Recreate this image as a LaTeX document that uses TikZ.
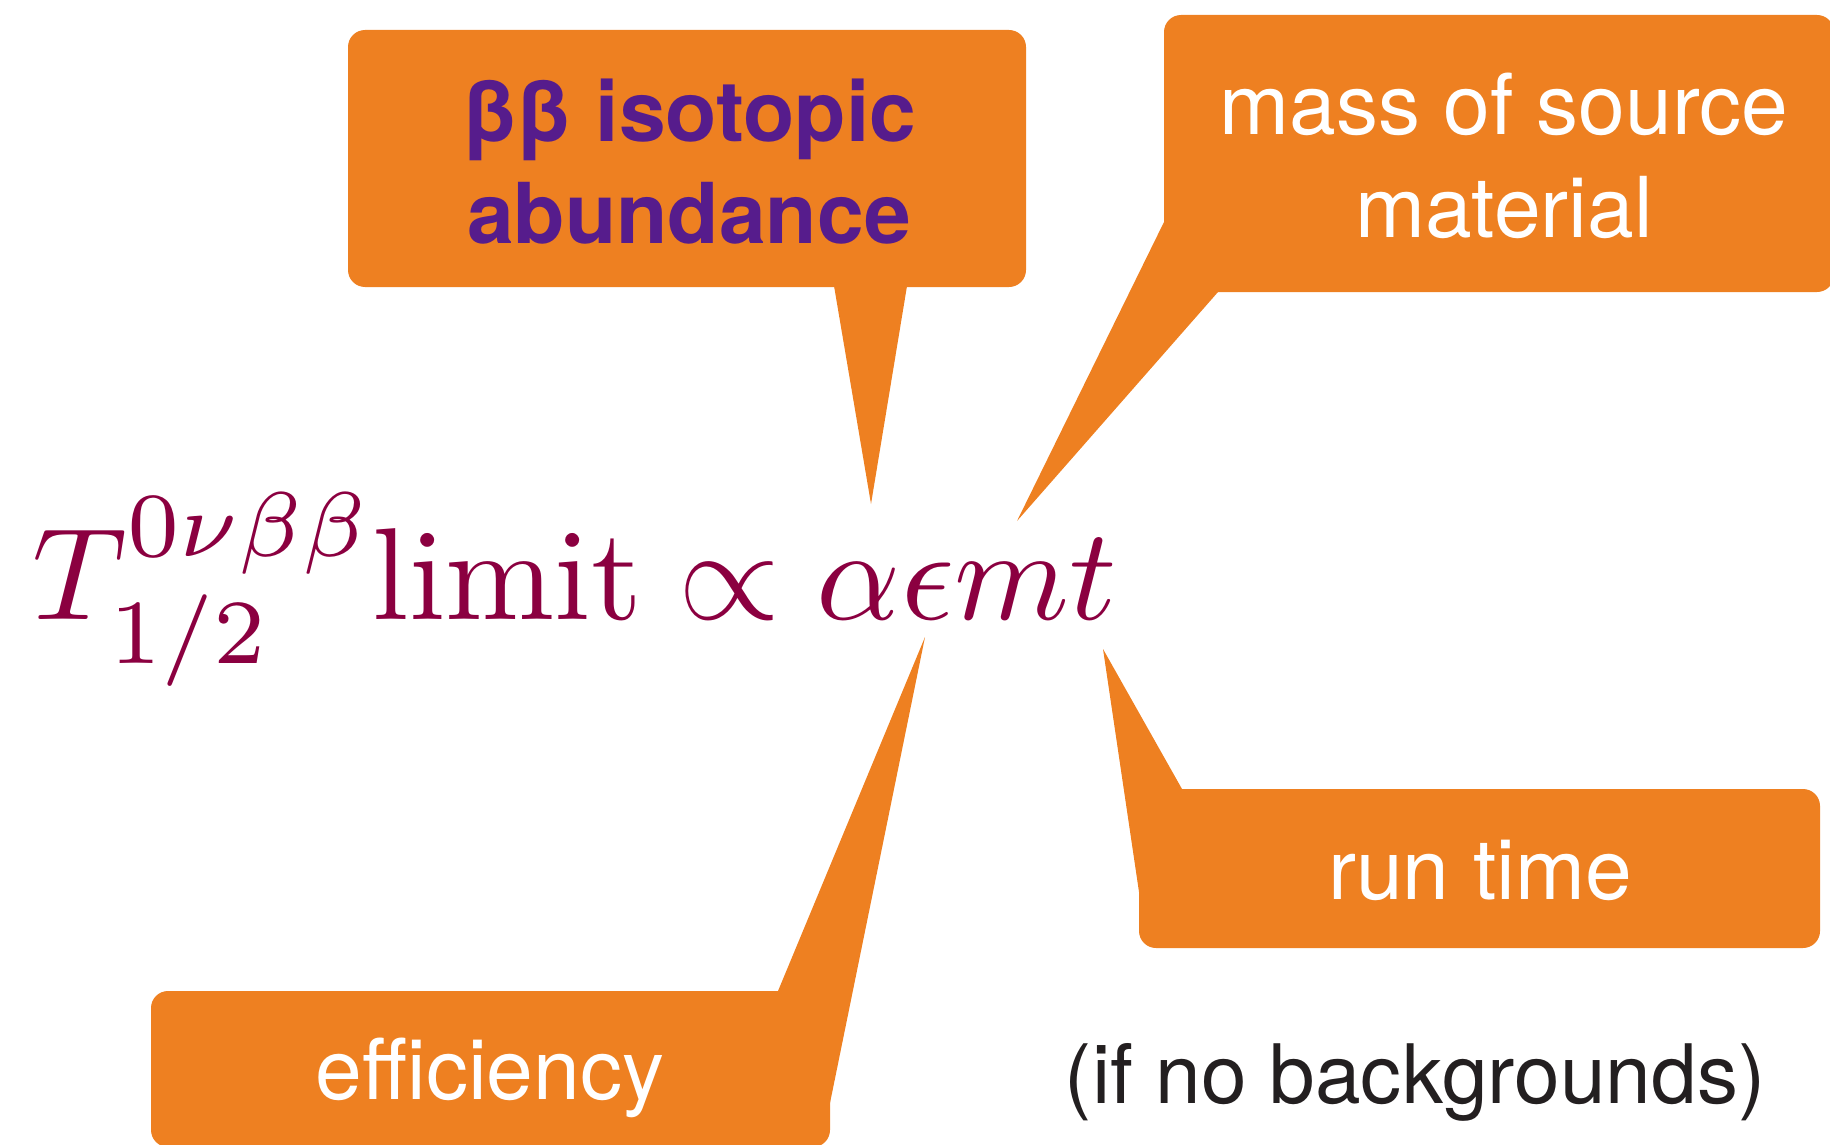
\documentclass[tikz,border=0pt]{standalone}
\usepackage{fontspec}
\setsansfont{TeX Gyre Heros}
\definecolor{calloutorange}{RGB}{238,128,33}
\definecolor{formulared}{RGB}{139,0,64}
\definecolor{boldpurple}{RGB}{86,28,140}
\definecolor{notegray}{RGB}{35,31,32}
\tikzset{
  callout/.style={fill=calloutorange, rounded corners=17pt, inner sep=0pt, draw=none},
  tail/.style={fill=calloutorange},
  whitetext/.style={anchor=base, inner sep=0pt, text=white, font=\sffamily\fontsize{84}{100}\selectfont},
  purpletext/.style={anchor=base, inner sep=0pt, text=boldpurple, font=\sffamily\bfseries\fontsize{84}{100}\selectfont},
  notetext/.style={anchor=base, inner sep=0pt, text=notegray, font=\sffamily\fontsize{82}{100}\selectfont},
}
\begin{document}
\begin{tikzpicture}[x=1pt,y=-1pt]
\useasboundingbox (0,0) rectangle (1830,1145);
\clip (0,0) rectangle (1830,1145);
% boxes
\node[callout, minimum width=678pt, minimum height=257pt] (abund) at (687,158.5) {};
\node[callout, minimum width=670pt, minimum height=277pt] (mass) at (1499,153.5) {};
\node[callout, minimum width=681pt, minimum height=159pt] (runbox) at (1479.5,868.5) {};
\node[callout, minimum width=679pt, minimum height=156pt] (effbox) at (490.5,1069) {};
% tail tips
\coordinate (abundtip) at (871,504);
\coordinate (masstip) at (1017,521);
\coordinate (runtip) at (1103,649);
\coordinate (efftip) at (925,637);
% tails
\fill[tail] (833,280) -- (abundtip) -- (908,280) -- cycle;
\fill[tail] (1164,222) -- (masstip) -- (1218,292) -- (1200,240) -- cycle;
\fill[tail] (1182,789) -- (runtip) -- (1139,892) -- cycle;
\fill[tail] (778,991) -- (efftip) -- (830,1103) -- cycle;
% texts
\node[purpletext] (abundA) at (689,142) {β\kern-4ptβ isotopic};
\node[purpletext] (abundB) at (689,243) {abundance};
\node[whitetext] (massA) at (1504,135) {mass of source};
\node[whitetext] (massB) at (1504,237) {material};
\node[whitetext] (runtext) at (1480,899) {run time};
\node[whitetext] (efftext) at (490,1099) {efficiency};
\node[notetext] (note) at (1415,1103) {(if no backgrounds)};
% formula
\node[anchor=base west, inner sep=0pt, text=formulared, scale=13.1, font=\fontsize{10}{12}\selectfont] (formula) at (30,619)
  {$T^{0\nu\beta\beta}_{1/2}\mathrm{limit}\propto\alpha\epsilon mt$};
\end{tikzpicture}
\end{document}
